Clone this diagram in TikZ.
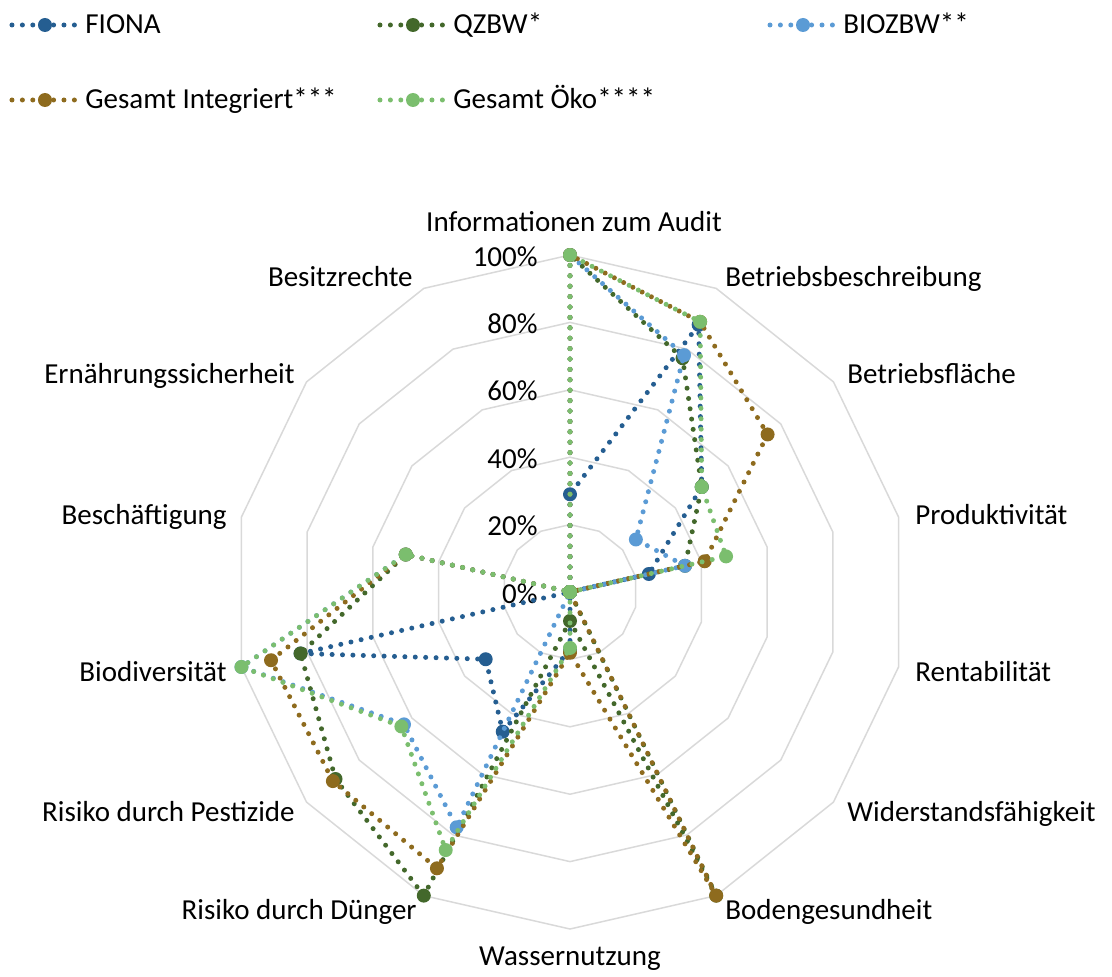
\documentclass[tikz,border=0pt]{standalone}
\usepackage{fontspec}
\setmainfont{Carlito}
\definecolor{cFiona}{HTML}{255E91}
\definecolor{cQzbw}{HTML}{43682B}
\definecolor{cBio}{HTML}{5B9BD5}
\definecolor{cInt}{HTML}{8E6B1E}
\definecolor{cOeko}{HTML}{7BBE6E}
\definecolor{cGrid}{HTML}{D9D9D9}
\newcommand\drawseries[3]{%
  \foreach \v [count=\i from 0] in {#3} {\coordinate (#1-\i) at ({90-\i*360/14}:{\v*337});}
  \draw[serline,#2] (#1-0) \foreach \i in {13,12,...,1}{ -- (#1-\i)} -- cycle;
  \foreach \i in {0,...,13} {\fill[#2] (#1-\i) circle (7);}
}
\begin{document}
\begin{tikzpicture}[x=0.5pt,y=0.5pt,
  gridring/.style={draw=cGrid, line width=0.75pt, line join=miter},
  serline/.style={line width=2.5pt, line cap=round, dash pattern=on 0pt off 5.2pt, line join=round},
  lbl/.style={inner sep=0pt, font=\fontsize{14.5}{17}\selectfont, text=black},
  lgmark/.style={circle, inner sep=0pt, minimum size=7pt, fill=#1}
]
\useasboundingbox (-570,-384) rectangle (542,592);
% rings
\foreach \r in {0.2,0.4,0.6,0.8,1.0} {
  \draw[gridring] (90:{\r*337}) \foreach \k in {1,...,13}{ -- ({90-\k*360/14}:{\r*337})} -- cycle;
}
% percent labels
\foreach \p/\t in {0/0\%,1/20\%,2/40\%,3/60\%,4/80\%,5/100\%} {
  \node[lbl, anchor=base east] (pct\p) at (-32,{\p*67.4-11}) {\t};
}
% axis labels
\node[lbl, anchor=base] (ax0) at (4,361) {Informationen zum Audit};
\node[lbl, anchor=base west] (ax1) at (155,306) {Betriebsbeschreibung};
\node[lbl, anchor=base west] (ax2) at (277,209) {Betriebsfläche};
\node[lbl, anchor=base west] (ax3) at (345,68) {Produktivität};
\node[lbl, anchor=base west] (ax4) at (345,-89) {Rentabilität};
\node[lbl, anchor=base west] (ax5) at (277,-229) {Widerstandsfähigkeit};
\node[lbl, anchor=base west] (ax6) at (155,-327) {Bodengesundheit};
\node[lbl, anchor=base] (ax7) at (0,-373) {Wassernutzung};
\node[lbl, anchor=base east] (ax8) at (-153,-327) {Risiko durch Dünger};
\node[lbl, anchor=base east] (ax9) at (-275,-229) {Risiko durch Pestizide};
\node[lbl, anchor=base east] (ax10) at (-343,-89) {Biodiversität};
\node[lbl, anchor=base east] (ax11) at (-343,68) {Beschäftigung};
\node[lbl, anchor=base east] (ax12) at (-275,209) {Ernährungssicherheit};
\node[lbl, anchor=base east] (ax13) at (-157,306) {Besitzrechte};
% series
\drawseries{fiona}{cFiona}{0.29,0.88,0.50,0.24,0,0,0,0.17,0.46,0.32,0.82,0,0,0}
\drawseries{qzbw}{cQzbw}{1.0,0.77,0.50,0.35,0,0,1.0,0.086,1.0,0.89,0.82,0.5,0,0}
\drawseries{bio}{cBio}{1.0,0.78,0.25,0.35,0,0,0,0,0.775,0.63,1.0,0.5,0,0}
\drawseries{integ}{cInt}{1.0,0.89,0.75,0.41,0,0,1.0,0.18,0.91,0.90,0.91,0.5,0,0}
\drawseries{oeko}{cOeko}{1.0,0.89,0.50,0.475,0,0,0,0.166,0.85,0.64,1.0,0.5,0,0}
% legend
\foreach \n/\c/\x/\y/\t in {
  lf/cFiona/-558/567/FIONA,
  lq/cQzbw/-190/567/QZBW*,
  lb/cBio/200/567/BIOZBW**,
  li/cInt/-558/492/Gesamt Integriert***,
  lo/cOeko/-190/492/Gesamt Öko****} {
  \coordinate (\n-a) at (\x,\y);
  \coordinate (\n-b) at ({\x+63},\y);
  \draw[serline,\c] (\n-a) -- (\n-b);
  \node[lgmark=\c] (\n-m) at ({\x+33},\y) {};
  \node[lbl, anchor=base west] (\n-t) at ({\x+73},{\y-9}) {\t};
}
\end{tikzpicture}
\end{document}
